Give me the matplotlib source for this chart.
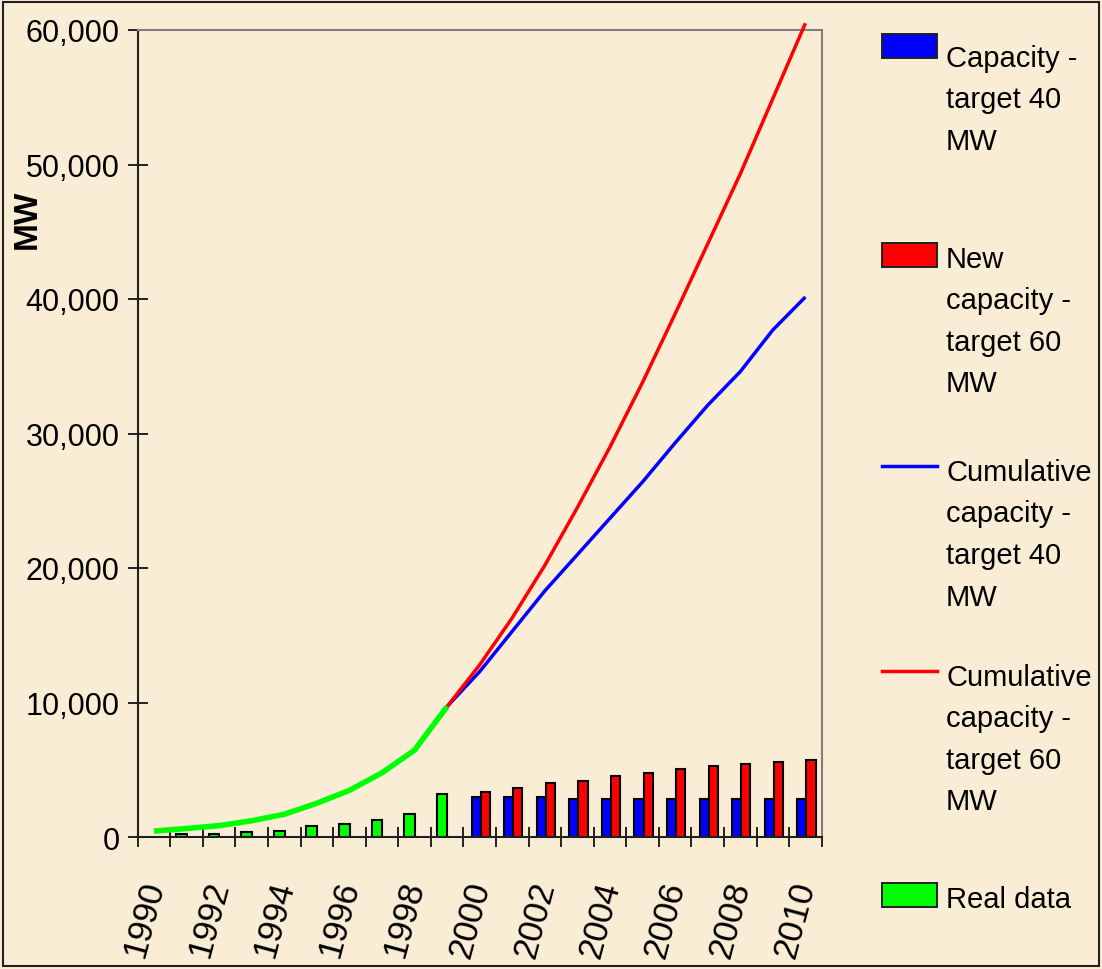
import numpy as np
import matplotlib
matplotlib.use("Agg")
import matplotlib.pyplot as plt
from matplotlib.patches import Rectangle
from matplotlib.lines import Line2D

plt.rcParams['font.family'] = ['Liberation Sans', 'DejaVu Sans']

# --- data ---
years = list(range(1990, 2011))
real_years = list(range(1990, 2000))
real_cum = [440, 630, 845, 1210, 1690, 2510, 3470, 4770, 6460, 9700]
real_new_years = list(range(1991, 2000))
real_new = [190, 215, 370, 470, 830, 960, 1300, 1680, 3190]

target_years = list(range(1999, 2011))
cum_40 = [9700, 12300, 15300, 18300, 21000, 23700, 26400, 29300, 32100, 34600, 37700, 40150]
cum_60 = [9700, 12800, 16300, 20200, 24500, 29000, 33800, 38900, 44100, 49300, 54900, 60500]

new_years = list(range(2000, 2011))
new_40 = [2950, 2950, 2950, 2800, 2800, 2800, 2800, 2800, 2800, 2800, 2800]
new_60 = [3350, 3650, 4000, 4200, 4500, 4750, 5050, 5250, 5400, 5550, 5750]

legend_labels = ["Capacity -\ntarget 40\nMW",
                 "New\ncapacity -\ntarget 60\nMW",
                 "Cumulative\ncapacity -\ntarget 40\nMW",
                 "Cumulative\ncapacity -\ntarget 60\nMW",
                 "Real data"]

BG = '#FAEDD6'
W, H = 1102, 970

def pos(yrs):
    return np.array([y - years[0] for y in yrs])

fig = plt.figure(figsize=(W / 100, H / 100), dpi=100, facecolor=BG)
ax = fig.add_axes([137.7 / W, 1 - 838 / H, (821.7 - 137.7) / W, (838 - 31) / H])
ax.set_facecolor('none')

# bars
ax.bar(pos(real_new_years) - 0.32, real_new, width=0.33, align='edge',
       color='#00FF00', edgecolor='black', linewidth=1.5, zorder=2)
ax.bar(pos(new_years) - 0.25, new_40, width=0.28, align='edge',
       color='#0000FF', edgecolor='black', linewidth=1.5, zorder=2)
ax.bar(pos(new_years) + 0.03, new_60, width=0.28, align='edge',
       color='#FF0000', edgecolor='black', linewidth=1.5, zorder=2)

# lines
ax.plot(pos(target_years), cum_40, color='#0000FF', lw=2.5, zorder=3,
        clip_on=False, solid_capstyle='butt')
ax.plot(pos(target_years), cum_60, color='#FF0000', lw=2.5, zorder=4,
        clip_on=False, solid_capstyle='butt')
ax.plot(pos(real_years), real_cum, color='#00FF00', lw=4, zorder=5,
        clip_on=False, solid_capstyle='butt')

ax.set_xlim(-0.5, len(years) - 0.5)
ax.set_ylim(0, 60000)

# axes look
for s in ['top', 'right']:
    ax.spines[s].set_color('#808080')
    ax.spines[s].set_linewidth(1.5)
for s in ['left', 'bottom']:
    ax.spines[s].set_color('#202020')
    ax.spines[s].set_linewidth(1.5)

yt = np.arange(0, 60001, 10000)
ax.set_yticks(yt)
ax.set_yticklabels([f"{v:,}" for v in yt], fontsize=22)
ax.tick_params(axis='y', direction='inout', length=14, width=1.2, pad=6)

ax.set_xticks(np.arange(-0.5, len(years)), minor=False)
ax.set_xticklabels([])
ax.tick_params(axis='x', direction='inout', length=15, width=1.2)
for i, yr in enumerate(years):
    if yr % 2 == 0:
        ax.text(i + 0.0, -0.055, str(yr), transform=ax.get_xaxis_transform(),
                rotation=75, rotation_mode='anchor', ha='right', va='center',
                fontsize=25)

fig.text(27 / W, 1 - 219 / H, "MW", rotation=90, fontsize=24, fontweight='bold',
         ha='center', va='center')

# legend, drawn by hand like the original
kinds = ['patch', 'patch', 'line', 'line', 'patch']
colors = ['#0000FF', '#FF0000', '#0000FF', '#FF0000', '#00FF00']
handle_y = [47, 256, 467, 672, 896]
base_y = [67, 268, 481, 686, 908]
for kind, c, hy, by, lab in zip(kinds, colors, handle_y, base_y, legend_labels):
    if kind == 'patch':
        fig.add_artist(Rectangle((882 / W, 1 - (hy + 12) / H), 55 / W, 24 / H,
                                 transform=fig.transFigure, facecolor=c,
                                 edgecolor='#202020', linewidth=1.4))
    else:
        fig.add_artist(Line2D([882 / W, 937 / W], [1 - hy / H, 1 - hy / H],
                              transform=fig.transFigure, color=c, lw=2.5))
    for k, line in enumerate(lab.split("\n")):
        fig.text(946 / W, 1 - (by + k * 41.5) / H, line, fontsize=21,
                 ha='left', va='baseline')

# outer frame
fig.add_artist(Rectangle((3 / W, 3 / H), 1096 / W, 964 / H, transform=fig.transFigure,
                         fill=False, edgecolor='#202020', linewidth=1.5))

fig.savefig('out.png', dpi=100, facecolor=BG)
